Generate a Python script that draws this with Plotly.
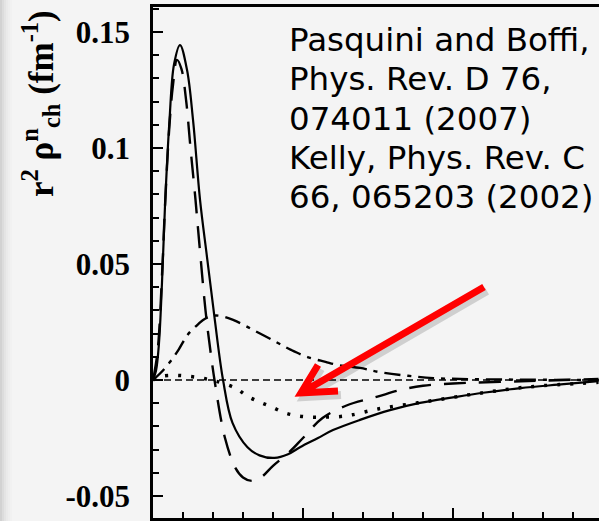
import plotly.graph_objects as go

# ---------------- data (r in fm, r^2 rho in fm^-1) ----------------
r_solid = [0, 0.02, 0.04, 0.06, 0.08, 0.11, 0.14, 0.18, 0.227, 0.267, 0.313, 0.36, 0.41,
           0.467, 0.53, 0.63, 0.71, 0.81, 0.9, 0.98, 1.1, 1.2, 1.38, 1.58, 1.78,
           2.0, 2.2, 2.45, 2.7, 2.97]
y_solid = [0, 0.004, 0.016, 0.042, 0.075, 0.112, 0.136, 0.1444, 0.1336, 0.112, 0.078, 0.053, 0.027,
           0.0, -0.0185, -0.029, -0.0325, -0.0336, -0.032, -0.029, -0.025, -0.0216, -0.0172,
           -0.013, -0.0099, -0.0075, -0.0055, -0.0035, -0.002, -0.0005]

r_dash = [0, 0.03, 0.06, 0.08, 0.11, 0.133, 0.16, 0.19, 0.22, 0.25, 0.28, 0.31, 0.35, 0.38,
          0.41, 0.48, 0.55, 0.60, 0.66, 0.72, 0.80, 0.91, 1.0, 1.13, 1.29, 1.49, 1.65, 1.8,
          2.0, 2.5, 2.97]
y_dash = [0, 0.012, 0.045, 0.075, 0.11, 0.127, 0.138, 0.134, 0.121, 0.1, 0.08, 0.058, 0.03, 0.014,
          0.0, -0.025, -0.038, -0.042, -0.0435, -0.042, -0.037, -0.031, -0.025, -0.0164, -0.011,
          -0.0073, -0.0043, -0.0025, -0.0015, -0.0005, 0.0005]

r_dashdot = [0, 0.05, 0.11, 0.17, 0.23, 0.30, 0.35, 0.42, 0.53, 0.67, 0.82, 0.92, 1.03, 1.15,
             1.23, 1.38, 1.5, 1.7, 1.87, 2.2, 2.97]
y_dashdot = [0, 0.003, 0.0075, 0.013, 0.0194, 0.024, 0.0265, 0.0278, 0.026, 0.0215, 0.0164, 0.013,
             0.0099, 0.0078, 0.0065, 0.0052, 0.0035, 0.0018, 0.0008, 0.0003, 0.0]

r_dot = [0, 0.05, 0.15, 0.25, 0.35, 0.42, 0.55, 0.63, 0.71, 0.79, 0.88, 0.97, 1.06, 1.15,
         1.24, 1.33, 1.5, 1.7, 1.9, 2.2, 2.5, 2.97]
y_dot = [0, 0.0015, 0.002, 0.0015, 0.0005, -0.0005, -0.0035, -0.007, -0.0095, -0.0116, -0.0142,
         -0.0155, -0.016, -0.016, -0.0158, -0.015, -0.0125, -0.0105, -0.0085, -0.0055, -0.003,
         -0.001]

r_zero = [0, 2.98]
y_zero = [0, 0]

y_tickvals = [-0.05, 0, 0.05, 0.1, 0.15]
y_ticktext = ["-0.05", "0", "0.05", "0.1", "0.15"]

ref_lines = ["Pasquini and Boffi,", "Phys. Rev. D 76,", "074011 (2007)",
             "Kelly, Phys. Rev. C", "66, 065203 (2002)"]

ytitle = "r<sup>2</sup> ρ<sup>n</sup><sub>ch</sub> (fm<sup>-1</sup>)"

# ---------------- figure ----------------
W, H = 599, 521
ML, MR, MT, MB = 153, 0, 7, 3
PW, PH = W - ML - MR, H - MT - MB
XR = [0, PW / 150.0]
YR = [-0.0595, 0.1608]

fig = go.Figure()
blk = "black"
fig.add_trace(go.Scatter(x=r_zero, y=y_zero, mode="lines",
                         line=dict(color=blk, width=1.6, dash="7px,4px")))
fig.add_trace(go.Scatter(x=r_dashdot, y=y_dashdot, mode="lines", line_shape="spline",
                         line=dict(color=blk, width=2.4, dash="16px,7px,4px,7px")))
fig.add_trace(go.Scatter(x=r_dot, y=y_dot, mode="lines", line_shape="spline",
                         line=dict(color=blk, width=3.5, dash="3px,10px")))
fig.add_trace(go.Scatter(x=r_dash, y=y_dash, mode="lines", line_shape="spline",
                         line=dict(color=blk, width=2.4, dash="22px,13px")))
fig.add_trace(go.Scatter(x=r_solid, y=y_solid, mode="lines", line_shape="spline",
                         line=dict(color=blk, width=2.2)))

def px2x(px):
    return (px - ML) / 150.0

def py2y(py):
    return YR[1] - (py - MT) / PH * (YR[1] - YR[0])

# red arrow (annotation drawn as path)
tip = (301, 393); start = (484, 287); w1 = (318, 365); w2 = (338, 391)

def arrow_path(dx=0, dy=0):
    p = lambda q: f"{px2x(q[0] + dx)},{py2y(q[1] + dy)}"
    return f"M {p(start)} L {p(tip)} M {p(w1)} L {p(tip)} L {p(w2)}"

shapes = []
# left-edge shading of the scanned page
for i, c in enumerate(["#d2d2d2", "#dcdcdc", "#e4e4e4", "#eaeaea", "#eeeeee", "#f1f1f1"]):
    shapes.append(dict(type="rect", xref="paper", yref="paper",
                       x0=(-ML + 2 * i) / PW, x1=(-ML + 2 * i + 2) / PW,
                       y0=-MB / PH, y1=(PH + MT) / PH, line=dict(width=0), fillcolor=c,
                       layer="below"))
shapes.append(dict(type="path", path=arrow_path(3, 4), line=dict(color="rgba(0,0,0,0.15)", width=8)))
shapes.append(dict(type="path", path=arrow_path(), line=dict(color="#ff0000", width=7)))

annotations = []
y0_line = 40
for i, t in enumerate(ref_lines):
    annotations.append(dict(text=t, xref="paper", yref="paper",
                            x=(287 - ML) / PW, y=(H - MB - (y0_line + 39.3 * i)) / PH,
                            xanchor="left", yanchor="middle", showarrow=False, align="left",
                            font=dict(family="DejaVu Sans", size=32.5, color="black")))
annotations.append(dict(text=ytitle, xref="paper", yref="paper", textangle=-90,
                        x=(40 - ML) / PW, y=(H - MB - 104) / PH, xanchor="center",
                        yanchor="middle", showarrow=False,
                        font=dict(family="Liberation Serif", size=35, color="black",
                                  weight="bold")))

fig.update_layout(
    width=W, height=H, margin=dict(l=ML, r=MR, t=MT, b=MB, pad=0),
    paper_bgcolor="#f4f4f4", plot_bgcolor="#f4f4f4", showlegend=False,
    shapes=shapes, annotations=annotations,
    xaxis=dict(range=XR, showgrid=False, zeroline=False, showline=True, linewidth=2.5,
               linecolor=blk, mirror=True, ticks="inside", tick0=0, dtick=1, ticklen=10,
               tickwidth=1.5, tickcolor=blk, showticklabels=False,
               minor=dict(ticks="inside", dtick=0.2, ticklen=6, tickwidth=1.5, tickcolor=blk)),
    yaxis=dict(range=YR, showgrid=False, zeroline=False, showline=True, linewidth=2.5,
               linecolor=blk, mirror=False, ticks="inside", tickmode="array",
               tickvals=y_tickvals, ticktext=y_ticktext, ticklen=10, tickwidth=1.5,
               tickcolor=blk, ticklabelstandoff=14,
               tickfont=dict(family="Liberation Serif", size=31, color=blk, weight="bold"),
               minor=dict(ticks="inside", tickmode="linear", tick0=0, dtick=0.01, ticklen=6,
                          tickwidth=1.5, tickcolor=blk)),
)

fig.write_html("out.html")
